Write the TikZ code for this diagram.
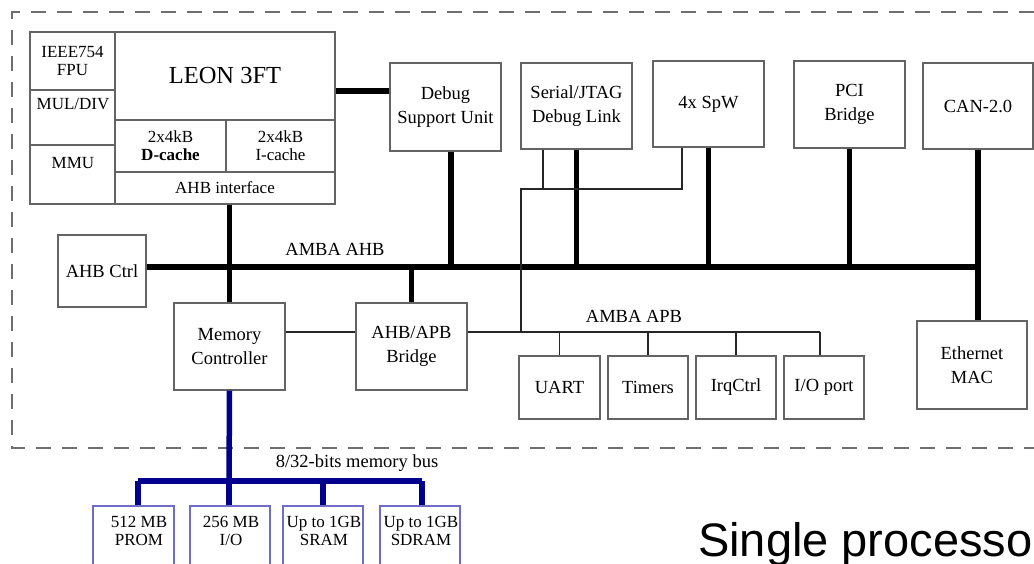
\documentclass[tikz,border=0pt]{standalone}
\usepackage{fontspec}
\setmainfont{Liberation Serif}
\newfontfamily\arialfont{Liberation Sans}
\usetikzlibrary{calc}
\definecolor{boxgray}{RGB}{100,100,100}
\definecolor{busblue}{RGB}{0,0,140}
\definecolor{memedge}{RGB}{110,110,200}
\definecolor{dashgray}{RGB}{110,110,110}
\newcommand\mainsz{\fontsize{18.5}{24}\selectfont}
\newcommand\smallsz{\fontsize{17}{18}\selectfont}
\newcommand\leonsz{\fontsize{24.5}{28}\selectfont}
\begin{document}
\begin{tikzpicture}[x=1pt,y=-1pt,
  box/.style={draw=boxgray, line width=1.2pt, inner sep=0pt, align=center, font=\mainsz},
  cell/.style={box, font=\smallsz},
  membox/.style={draw=memedge, line width=1.2pt, inner sep=0pt},
  txt/.style={inner sep=0pt, align=center, font=\mainsz},
  stxt/.style={inner sep=0pt, align=center, font=\smallsz},
  bus/.style={line width=5.5pt, black},
  thinline/.style={line width=1.4pt, black!85},
  bluebus/.style={line width=5.5pt, busblue},
  border/.style={dashgray, line width=1.3pt, dash pattern=on 15pt off 11pt}]
\useasboundingbox (0,0) rectangle (1034,564);
\clip (0,0) rectangle (1034,564);

% outer dashed frame
\draw[border] (1060,12) -- (12,12) -- (12,448) -- (1060,448);

% LEON 3FT processor block
\node[cell, minimum width=85, minimum height=58] (fpu) at (72.5,61) {IEEE754\\FPU};
\node[cell, minimum width=85, minimum height=55] (mul) at (72.5,117.5) {};
\node[stxt] at (73,104) {MUL/DIV};
\node[cell, minimum width=85, minimum height=59] (mmu) at (72.5,174.5) {};
\node[stxt] at (73,163) {MMU};
\node[box, font=\leonsz, minimum width=220, minimum height=88] (leon) at (225,76) {LEON 3FT};
\node[cell, minimum width=111, minimum height=52] (dcache) at (170.5,146) {2x4kB\\\textbf{D-cache}};
\node[cell, minimum width=109, minimum height=52] (icache) at (280.5,146) {2x4kB\\I-cache};
\node[cell, minimum width=220, minimum height=32] (ahbif) at (225,188) {AHB interface};

% top peripherals
\node[box, minimum width=111, minimum height=88] (dsu) at (445.5,107) {Debug\\Support Unit};
\node[box, minimum width=111, minimum height=86] (serial) at (576.5,106) {Serial/JTAG\\Debug Link};
\node[box, minimum width=111, minimum height=86] (spw) at (708.5,104) {4x SpW};
\node[box, minimum width=111, minimum height=87] (pci) at (849.5,104.5) {PCI\\Bridge};
\node[box, minimum width=110, minimum height=86] (can) at (978,106) {CAN-2.0};

% middle
\node[box, minimum width=88, minimum height=72] (ahbctrl) at (102,271) {AHB Ctrl};
\node[box, minimum width=111, minimum height=87] (memctrl) at (229.5,346.5) {Memory\\Controller};
\node[box, minimum width=111, minimum height=87] (bridge) at (411.5,346.5) {AHB/APB\\Bridge};
\node[box, minimum width=81, minimum height=63] (uart) at (559.5,387.5) {UART};
\node[box, minimum width=80, minimum height=63] (timers) at (648,387.5) {Timers};
\node[box, minimum width=80, minimum height=63] (irq) at (736,387.5) {IrqCtrl};
\node[box, minimum width=80, minimum height=63] (io) at (824,387.5) {I/O port};
\node[box, minimum width=110, minimum height=88] (eth) at (972,365) {Ethernet\\MAC};

% memory devices
\node[membox, minimum width=81, minimum height=74] (prom) at (133.5,543) {};
\node[membox, minimum width=80, minimum height=74] (iomem) at (230,543) {};
\node[membox, minimum width=80, minimum height=74] (sram) at (323,543) {};
\node[membox, minimum width=80, minimum height=74] (sdram) at (420,543) {};
\node[stxt] at (139,531) {512 MB\\PROM};
\node[stxt] at (231,531) {256 MB\\I/O};
\node[stxt] at (324,531) {Up to 1GB\\SRAM};
\node[stxt] at (421,531) {Up to 1GB\\SDRAM};

% bus coordinates
\coordinate (ahbL) at (146,267);
\coordinate (ahbR) at (978,267);
\coordinate (apbR) at (820,332);
\coordinate (lnkL) at (521,189);
\coordinate (lnkR) at (682,189);
\coordinate (apbJ) at (521,332);
\coordinate (memJ) at (229,481);
\coordinate (memL) at (138,481);
\coordinate (memR) at (422,481);

% AMBA AHB
\draw[bus] (ahbctrl.east |- ahbL) -- (ahbR);
\draw[bus] (leon.east |- 0,91) -- (dsu.west |- 0,91);
\draw[bus] (dsu.south -| 451,0) -- (451,267);
\draw[bus] (serial.south) -- (serial.south |- ahbL);
\draw[bus] (spw.south) -- (spw.south |- ahbL);
\draw[bus] (pci.south) -- (pci.south |- ahbL);
\draw[bus] (can.south) -- (eth.north -| can.south);
\draw[bus] (ahbif.south -| memctrl.north) -- (memctrl.north);
\draw[bus] (bridge.north) -- (bridge.north |- ahbL);

% debug links and APB
\draw[thinline] (serial.south -| 543,0) -- (543,189);
\draw[thinline] (spw.south -| lnkR) -- (lnkR) -- (lnkL) -- (apbJ);
\draw[thinline] (memctrl.east |- apbJ) -- (bridge.west |- apbJ);
\draw[thinline] (bridge.east |- apbJ) -- (apbR);
\draw[thinline] (uart.north |- apbJ) -- (uart.north);
\draw[thinline] (timers.north |- apbJ) -- (timers.north);
\draw[thinline] (irq.north |- apbJ) -- (irq.north);
\draw[thinline] (apbR) -- (io.north -| apbR);

% memory bus
\draw[bluebus] (memctrl.south) -- (memJ);
\draw[bluebus] (memL) -- (memR);
\draw[bluebus] (memL) -- (prom.north -| memL);
\draw[bluebus] (memJ) -- (iomem.north -| memJ);
\draw[bluebus] (sram.north |- memJ) -- (sram.north);
\draw[bluebus] (memR) -- (sdram.north -| memR);

% labels
\node[txt] at (335,249) {AMBA AHB};
\node[txt] at (634,316) {AMBA APB};
\node[txt] at (357,463) {8/32-bits memory bus};
\node[anchor=base west, inner sep=0pt, font=\arialfont\fontsize{47}{52}\selectfont] at (698,556) {Single processo};
\end{tikzpicture}
\end{document}
